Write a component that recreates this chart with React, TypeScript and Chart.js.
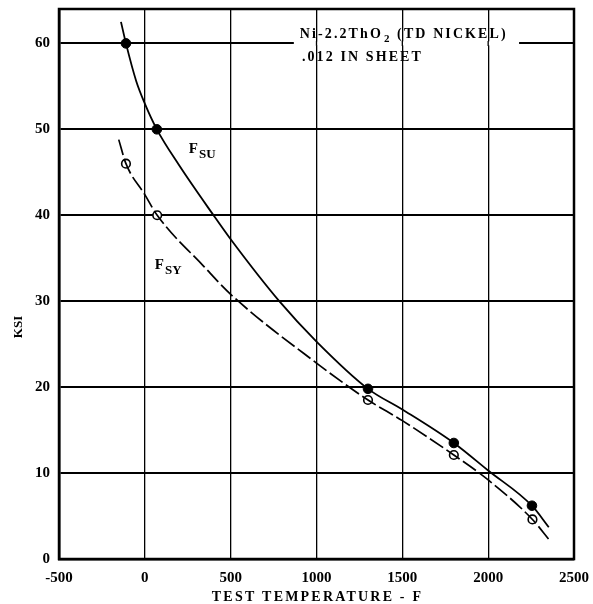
import React, { useEffect, useRef } from 'react';
import { Chart, registerables } from 'chart.js';
Chart.register(...registerables);

const xTicks = [-500, 0, 500, 1000, 1500, 2000, 2500];
const yTicks = [0, 10, 20, 30, 40, 50, 60];

// measured points
const fsuTemps = [-110, 70, 1300, 1800, 2255];
const fsuKsi = [60, 50, 19.8, 13.5, 6.2];
const fsyTemps = [-110, 72, 1300, 1800, 2258];
const fsyKsi = [46.0, 40, 18.5, 12.1, 4.6];

// faired curves
const fsuCurveT = [-139, -110, -50, 0, 70, 197, 400, 500, 783, 1000, 1300, 1500, 1800, 2000, 2255, 2353];
const fsuCurveK = [62.5, 60, 55.6, 53.0, 50, 45.9, 40, 37.2, 30, 25.3, 19.8, 17.4, 13.5, 10.3, 6.2, 3.7];
const fsyCurveT = [-152, -110, 0, 72, 346, 500, 1000, 1300, 1500, 1800, 2000, 2258, 2353];
const fsyCurveK = [48.8, 46.0, 42.4, 40, 34.0, 30.8, 22.8, 18.5, 16.1, 12.1, 9.2, 4.6, 2.3];

const FONT = '"Liberation Serif", "DejaVu Serif", serif';

const pts = (xs: number[], ys: number[]) => xs.map((x, i) => ({ x, y: ys[i] }));

export default function App() {
  const ref = useRef<HTMLCanvasElement>(null);
  useEffect(() => {
    document.body.style.margin = '0';
    const decor = {
      id: 'decor',
      beforeDatasetsDraw(chart: any) {
        const { ctx, chartArea } = chart;
        const xs = chart.scales.x, ys = chart.scales.y;
        ctx.save();
        // gap in 60 line behind the note
        const y60 = ys.getPixelForValue(60);
        const gx0 = xs.getPixelForValue(868), gx1 = xs.getPixelForValue(2180);
        ctx.fillStyle = '#fff';
        ctx.fillRect(gx0, y60 - 2, gx1 - gx0, 4);
        ctx.strokeStyle = '#000';
        ctx.lineWidth = 1.3;
        [1000, 1500, 2000].forEach((v) => {
          const px = xs.getPixelForValue(v);
          if (px > gx0 && px < gx1) {
            ctx.beginPath();
            ctx.moveTo(px, y60 - 2.5);
            ctx.lineTo(px, y60 + 2.5);
            ctx.stroke();
          }
        });
        // frame
        ctx.lineWidth = 2.5;
        ctx.strokeRect(chartArea.left, chartArea.top, chartArea.right - chartArea.left, chartArea.bottom - chartArea.top);
        ctx.restore();
      },
      afterDraw(chart: any) {
        const { ctx, chartArea } = chart;
        const xs = chart.scales.x, ys = chart.scales.y;
        ctx.save();
        ctx.fillStyle = '#000';
        ctx.textBaseline = 'alphabetic';
        const sub = (x: number, y: number, main: string, s: string, size: number, subSize: number, drop: number) => {
          ctx.font = `bold ${size}px ${FONT}`;
          ctx.fillText(main, x, y);
          const w = ctx.measureText(main).width;
          ctx.font = `bold ${subSize}px ${FONT}`;
          ctx.fillText(s, x + w + 1, y + drop);
          const ww = ctx.measureText(s).width;
          ctx.font = `bold ${size}px ${FONT}`;
          return x + w + 1 + ww;
        };
        // curve labels
        sub(xs.getPixelForValue(256), ys.getPixelForValue(47.2), 'F', 'SU', 15, 13, 5);
        sub(xs.getPixelForValue(58), ys.getPixelForValue(33.7), 'F', 'SY', 15, 13, 5);
        // note
        ctx.letterSpacing = '2.1px';
        const nx = xs.getPixelForValue(903);
        const ny = ys.getPixelForValue(60.6);
        const end = sub(nx, ny, 'Ni-2.2ThO', '2', 14, 11, 4);
        ctx.font = `bold 14px ${FONT}`;
        ctx.fillText(' (TD NICKEL)', end, ny);
        ctx.fillText('.012 IN SHEET', xs.getPixelForValue(915), ys.getPixelForValue(58.0));
        // axis titles
        ctx.letterSpacing = '2.2px';
        ctx.font = `bold 14px ${FONT}`;
        ctx.textAlign = 'center';
        ctx.textBaseline = 'middle';
        ctx.fillText('TEST TEMPERATURE - F', (chartArea.left + chartArea.right) / 2 + 1, chartArea.bottom + 38);
        ctx.letterSpacing = '0px';
        ctx.font = `bold 13px ${FONT}`;
        ctx.translate(19, ys.getPixelForValue(27));
        ctx.rotate(-Math.PI / 2);
        ctx.fillText('KSI', 0, 0);
        ctx.restore();
      },
    };
    const tickFont = { family: FONT, size: 15, weight: 'bold' };
    const chart = new Chart(ref.current!, {
      type: 'scatter',
      data: {
        datasets: [
          {
            label: 'FSU curve',
            data: pts(fsuCurveT, fsuCurveK),
            showLine: true,
            borderColor: '#000',
            borderWidth: 1.8,
            pointRadius: 0,
            cubicInterpolationMode: 'monotone',
          },
          {
            label: 'FSY curve',
            data: pts(fsyCurveT, fsyCurveK),
            showLine: true,
            borderColor: '#000',
            borderWidth: 1.7,
            borderDash: [16, 4],
            pointRadius: 0,
            cubicInterpolationMode: 'monotone',
          },
          {
            label: 'FSU',
            data: pts(fsuTemps, fsuKsi),
            showLine: false,
            pointRadius: 4.8,
            backgroundColor: '#000',
            borderColor: '#000',
            borderWidth: 1,
          },
          {
            label: 'FSY',
            data: pts(fsyTemps, fsyKsi),
            showLine: false,
            pointRadius: 4.3,
            backgroundColor: '#fff',
            borderColor: '#000',
            borderWidth: 1.6,
          },
        ],
      },
      options: {
        animation: false,
        responsive: true,
        maintainAspectRatio: false,
        layout: { padding: { top: 9, right: 19, left: 0, bottom: 0 } },
        plugins: { legend: { display: false }, tooltip: { enabled: false } },
        scales: {
          x: {
            type: 'linear',
            min: -500,
            max: 2500,
            afterBuildTicks: (s: any) => { s.ticks = xTicks.map((v) => ({ value: v })); },
            afterFit: (s: any) => { s.height = 45; s.paddingLeft = 0; s.paddingRight = 0; },
            ticks: { color: '#000', font: tickFont, padding: 10, maxRotation: 0, callback: (v: any) => String(v) },
            grid: { color: '#000', lineWidth: 1.3, drawTicks: false },
            border: { display: true, color: '#000', width: 2.5 },
          },
          y: {
            type: 'linear',
            min: 0,
            max: 64,
            afterBuildTicks: (s: any) => { s.ticks = yTicks.map((v) => ({ value: v })); },
            afterFit: (s: any) => { s.width = 59; s.paddingTop = 0; s.paddingBottom = 0; },
            ticks: { color: '#000', font: tickFont, padding: 9, callback: (v: any) => String(v) },
            grid: { color: '#000', lineWidth: 2, drawTicks: false },
            border: { display: true, color: '#000', width: 2.5 },
          },
        },
      },
      plugins: [decor],
    } as any);
    return () => chart.destroy();
  }, []);
  return (
    <div style={{ position: 'absolute', left: 0, top: 0, width: 593, height: 604, background: '#fff' }}>
      <canvas ref={ref} />
    </div>
  );
}
